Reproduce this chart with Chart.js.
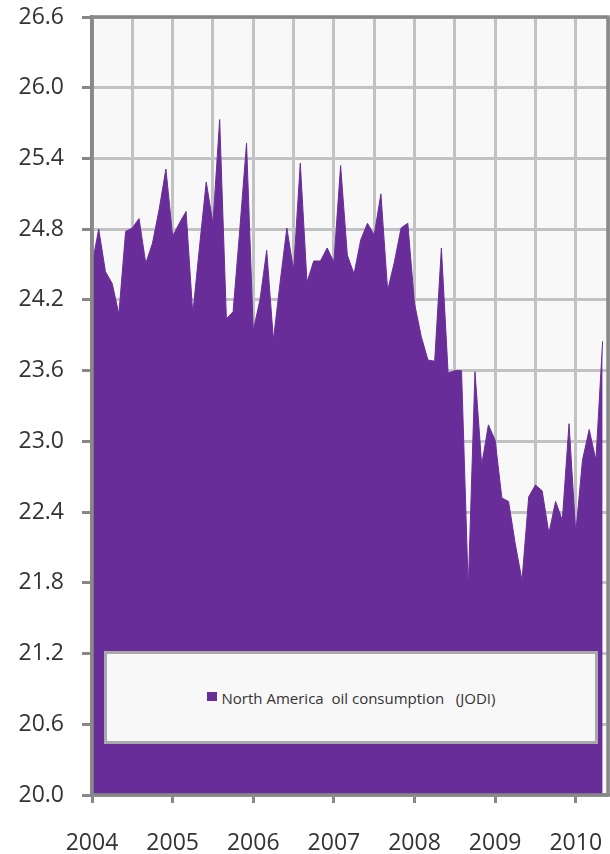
<!DOCTYPE html>
<html>
<head>
<meta charset="utf-8">
<script src="https://cdn.jsdelivr.net/npm/chart.js@4"></script>
<style>
  html, body { margin: 0; padding: 0; background: #fff; }
  #wrap { position: relative; width: 610px; height: 854px; }
  #legend {
    position: absolute; left: 104px; top: 651px; width: 488px; height: 87px;
    background: #f8f8f8; border: 3px solid #a9a9a9;
    display: flex; align-items: center; justify-content: center;
    font-family: "Open Sans", sans-serif; font-size: 15px; color: #333; white-space: pre;
  }
  #legend .swatch { display: inline-block; width: 10px; height: 9px; background: #692d99; margin-right: 5px; position: relative; top: -1px; }
</style>
</head>
<body>
<div id="wrap">
  <canvas id="chart" width="610" height="854"></canvas>
  <div id="legend"><span class="swatch"></span>North America  oil consumption   (JODI)</div>
</div>
<script>
// monthly, Jan 2004 .. May 2010 (million barrels/day)
const startYear = 2004;
const seriesName = 'North America oil consumption (JODI)';
const consumption = [
  24.50, 24.80, 24.44, 24.34, 24.08, 24.78, 24.81, 24.89, 24.51, 24.68, 24.97, 25.31,
  24.74, 24.85, 24.95, 24.08, 24.65, 25.20, 24.85, 25.73, 24.04, 24.10, 24.80, 25.53,
  23.94, 24.20, 24.62, 23.86, 24.35, 24.81, 24.45, 25.36, 24.35, 24.53, 24.53, 24.64,
  24.52, 25.34, 24.58, 24.42, 24.71, 24.85, 24.75, 25.10, 24.28, 24.52, 24.81, 24.85,
  24.17, 23.89, 23.69, 23.68, 24.64, 23.58, 23.60, 23.60, 21.75, 23.59, 22.80, 23.14,
  23.01, 22.52, 22.49, 22.13, 21.82, 22.53, 22.63, 22.58, 22.22, 22.49, 22.33, 23.15,
  22.22, 22.84, 23.10, 22.84, 23.85
];
const yearTicks = [2004, 2005, 2006, 2007, 2008, 2009, 2010];
const yTicks = { min: 20.0, max: 26.6, step: 0.6 };
const xRange = { min: 2004, max: 2010.4 };

const points = consumption.map((v, i) => ({ x: startYear + i / 12, y: v }));

// grid every half year, labels on whole years
const xTickValues = [];
yearTicks.forEach(y => { xTickValues.push(y); if (y + 0.5 < xRange.max) xTickValues.push(y + 0.5); });
xTickValues.push(xRange.max);

const frame = {
  id: 'frame',
  beforeDraw(chart) {
    const { ctx, chartArea: a } = chart;
    ctx.save();
    ctx.fillStyle = '#f8f8f8';
    ctx.fillRect(a.left, a.top, a.right - a.left, a.bottom - a.top);
    ctx.restore();
  },
  afterDatasetsDraw(chart) {
    const { ctx, chartArea: a } = chart;
    ctx.save();
    ctx.strokeStyle = '#888';
    ctx.lineWidth = 3.5;
    ctx.strokeRect(a.left, a.top, a.right - a.left, a.bottom - a.top);
    ctx.restore();
  }
};

const isYear = v => yearTicks.includes(v);
const tickFont = { family: 'Open Sans', size: 23 };

new Chart(document.getElementById('chart'), {
  type: 'line',
  data: {
    datasets: [{
      label: seriesName,
      data: points,
      backgroundColor: '#692d99',
      borderColor: '#692d99',
      borderWidth: 1,
      pointRadius: 0,
      tension: 0,
      fill: 'start'
    }]
  },
  options: {
    responsive: false,
    animation: false,
    layout: { padding: { top: 17, right: 2, left: 0, bottom: 0 } },
    plugins: { legend: { display: false }, tooltip: { enabled: false } },
    scales: {
      x: {
        type: 'linear',
        min: xRange.min,
        max: xRange.max,
        afterBuildTicks: s => { s.ticks = xTickValues.map(v => ({ value: v })); },
        afterFit: s => { s.height = 59; s.paddingLeft = 0; s.paddingRight = 0; },
        ticks: {
          autoSkip: false,
          maxRotation: 0,
          padding: 27,
          color: '#333',
          font: tickFont,
          callback: v => isYear(v) ? String(v) : ''
        },
        grid: {
          color: '#c2c2c2',
          lineWidth: 3,
          tickLength: 8,
          tickWidth: 3,
          tickColor: c => (c.tick && isYear(c.tick.value)) ? '#888' : 'rgba(0,0,0,0)'
        },
        border: { color: '#888', width: 3.5 }
      },
      y: {
        min: yTicks.min,
        max: yTicks.max,
        afterFit: s => { s.width = 92; s.paddingTop = 0; s.paddingBottom = 0; },
        ticks: {
          stepSize: yTicks.step,
          padding: 18,
          color: '#333',
          font: tickFont,
          callback: v => Number(v).toFixed(1)
        },
        grid: { color: '#c2c2c2', lineWidth: 3, tickLength: 10, tickWidth: 3, tickColor: '#888' },
        border: { color: '#888', width: 3.5 }
      }
    }
  },
  plugins: [frame]
});
</script>
</body>
</html>
